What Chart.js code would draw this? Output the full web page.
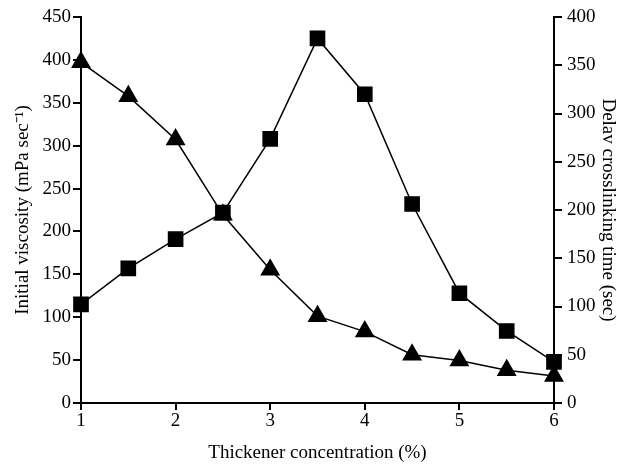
<!DOCTYPE html>
<html>
<head>
<meta charset="utf-8">
<script src="https://cdn.jsdelivr.net/npm/chart.js@4/dist/chart.umd.min.js"></script>
<style>
  html, body { margin: 0; padding: 0; background: #fff; }
  #wrap { width: 617px; height: 468px; }
</style>
</head>
<body>
<div id="wrap"><canvas id="chart1"></canvas></div>
<script>
// thickener concentration (%)
var concentration = [1, 1.5, 2, 2.5, 3, 3.5, 4, 4.5, 5, 5.5, 6];
// squares, left axis (mPa sec-1)
var viscosity = [115, 157, 191, 222, 308, 425, 360, 232, 128, 84, 48];
// triangles, right axis (sec)
var delayTime = [353, 318, 273, 195, 138, 90, 74, 50, 44, 34, 28];

var leftTicks = [0, 50, 100, 150, 200, 250, 300, 350, 400, 450];
var rightTicks = [0, 50, 100, 150, 200, 250, 300, 350, 400];
var xTicks = [1, 2, 3, 4, 5, 6];

function points(ys) {
  return concentration.map(function(c, i) { return {x: c, y: ys[i]}; });
}

var font = {family: '"Liberation Serif", "Times New Roman", serif', size: 19};
var black = '#000';

function axisStyle() {
  return {
    grid: {display: true, drawOnChartArea: false, drawTicks: true, tickLength: 8, color: black, lineWidth: 2},
    border: {display: true, color: black, width: 2}
  };
}

var xAxis = Object.assign(axisStyle(), {
  type: 'linear', min: 1, max: 6,
  afterBuildTicks: function(s) { s.ticks = xTicks.map(function(v) { return {value: v}; }); },
  ticks: {color: black, font: font, padding: 0},
  title: {display: true, text: 'Thickener concentration (%)', color: black, font: font, padding: {top: 10}},
  afterFit: function(s) { s.height = 65; }
});
xAxis.grid.tickLength = 7;

var yLeft = Object.assign(axisStyle(), {
  type: 'linear', position: 'left', min: 0, max: 450,
  afterBuildTicks: function(s) { s.ticks = leftTicks.map(function(v) { return {value: v}; }); },
  ticks: {color: black, font: font, padding: 2},
  title: {display: true, text: 'Initial viscosity (mPa sec\u207B\u00B9)', color: black, font: font, padding: {top: 12, bottom: 0}},
  afterFit: function(s) { s.width = 81; }
});

var yRight = Object.assign(axisStyle(), {
  type: 'linear', position: 'right', min: 0, max: 400,
  afterBuildTicks: function(s) { s.ticks = rightTicks.map(function(v) { return {value: v}; }); },
  ticks: {color: black, font: font, padding: 5},
  title: {display: true, text: 'Delav crosslinking time (sec)', color: black, font: Object.assign({}, font, {lineHeight: 1}), padding: {top: 0, bottom: 0}},
  afterFit: function(s) { s.width = 63; }
});

new Chart(document.getElementById('chart1').getContext('2d'), {
  type: 'line',
  data: {
    datasets: [{
      label: 'Initial viscosity',
      data: points(viscosity),
      yAxisID: 'y',
      borderColor: black,
      backgroundColor: black,
      borderWidth: 1.5,
      pointStyle: 'rect',
      pointRadius: 10,
      pointHoverRadius: 10,
      clip: false
    }, {
      label: 'Delay crosslinking time',
      data: points(delayTime),
      yAxisID: 'y1',
      borderColor: black,
      backgroundColor: black,
      borderWidth: 1.5,
      pointStyle: 'triangle',
      pointRadius: 10,
      pointHoverRadius: 10,
      clip: false
    }]
  },
  options: {
    responsive: true,
    maintainAspectRatio: false,
    animation: false,
    layout: {padding: {top: 17, left: 0, right: 0, bottom: 0}},
    plugins: {legend: {display: false}, tooltip: {enabled: false}},
    scales: {x: xAxis, y: yLeft, y1: yRight}
  }
});
</script>
</body>
</html>
